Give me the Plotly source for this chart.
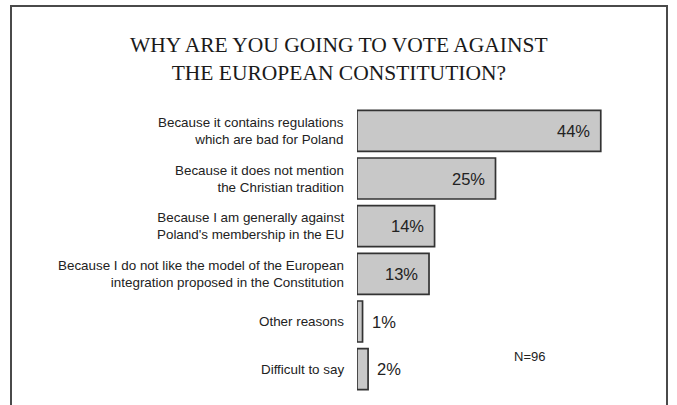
import plotly.graph_objects as go

# Survey answers (share of respondents, %)
reasons = [
    "Because it contains regulations<br>which are bad for Poland",
    "Because it does not mention<br>the Christian tradition",
    "Because I am generally against<br>Poland's membership in the EU",
    "Because I do not like the model of the European<br>integration proposed in the Constitution",
    "Other reasons",
    "Difficult to say",
]
shares = [44, 25, 14, 13, 1, 2]
value_labels = ["44%", "25%", "14%", "13%", "1%", "2%"]
sample_note = "N=96"
title_text = "WHY ARE YOU GOING TO VOTE AGAINST<br>THE EUROPEAN CONSTITUTION?"

W, H = 677, 405
ML, MR, MT, MB = 357, 43, 107, 12
PW, PH = W - ML - MR, H - MT - MB
XMAX = 50

def px_x(px):
    return (px - ML) / PW

def px_y(py):
    return 1 - (py - MT) / PH

SANS = "Liberation Sans, Arial, sans-serif"
SERIF = "Liberation Serif, Times New Roman, serif"

fig = go.Figure(
    go.Bar(
        x=shares,
        y=list(range(len(reasons))),
        orientation="h",
        marker=dict(color="#c8c8c8", line=dict(color="#333333", width=1.7)),
        hoverinfo="skip",
    )
)

annotations = []
for i, (r, v, lab) in enumerate(zip(reasons, shares, value_labels)):
    annotations.append(dict(
        x=0, y=i, xref="paper", yref="y", text=r, showarrow=False,
        xanchor="right", yanchor="middle", align="right", xshift=-11,
        font=dict(family=SANS, size=13.4, color="#222"),
    ))
    inside = v >= 5
    annotations.append(dict(
        x=v, y=i, xref="x", yref="y", text=lab, showarrow=False,
        xanchor="right" if inside else "left", yanchor="middle",
        xshift=-9 if inside else 7,
        font=dict(family=SANS, size=16.5, color="#222"),
    ))

annotations.append(dict(
    x=px_x(529.5), y=px_y(356), xref="paper", yref="paper", text=sample_note,
    showarrow=False, xanchor="center", yanchor="middle",
    font=dict(family=SANS, size=13, color="#222"),
))

annotations.append(dict(
    x=px_x(338.5), y=px_y(59), xref="paper", yref="paper", text=title_text,
    showarrow=False, xanchor="center", yanchor="middle", align="center",
    font=dict(family=SERIF, size=21.5, color="#1a1a1a"),
))

fig.update_layout(
    width=W, height=H,
    margin=dict(l=ML, r=MR, t=MT, b=MB),
    paper_bgcolor="white", plot_bgcolor="white",
    showlegend=False, bargap=0.14,
    xaxis=dict(range=[0, XMAX], visible=False, fixedrange=True),
    yaxis=dict(range=[len(reasons) - 0.5, -0.5], visible=False, fixedrange=True),
    annotations=annotations,
    shapes=[dict(
        type="rect", xref="paper", yref="paper",
        x0=px_x(11), x1=px_x(667), y0=px_y(420), y1=px_y(6),
        line=dict(color="#4a4a4a", width=2), fillcolor="rgba(0,0,0,0)", layer="below",
    )],
)

fig.write_html("out.html")
